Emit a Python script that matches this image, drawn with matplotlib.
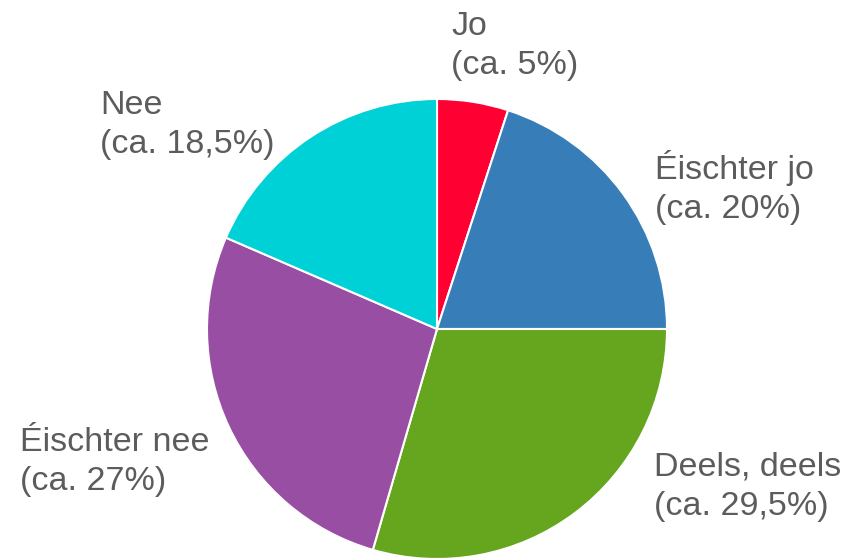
import matplotlib
matplotlib.use("Agg")
import matplotlib.pyplot as plt

# pie data (clockwise from top)
labels = ["Jo", "Éischter jo", "Deels, deels", "Éischter nee", "Nee"]
shares = [5, 20, 29.5, 27, 18.5]
share_text = ["ca. 5%", "ca. 20%", "ca. 29,5%", "ca. 27%", "ca. 18,5%"]
colors = ["#ff0033", "#377eb8", "#66a61e", "#984ea3", "#00d1d6"]

# label left edge and first-line baseline, figure pixels from top-left
label_pos = [(451, 35), (655, 179), (654, 476), (20, 451), (100, 114)]
line_gap = 39

W, H = 852, 559
fig = plt.figure(figsize=(W / 100, H / 100), dpi=100)

cx, cy, r = 437, 329, 230
ax = fig.add_axes([(cx - r) / W, (H - cy - r) / H, 2 * r / W, 2 * r / H])
ax.pie(shares, colors=colors, startangle=90, counterclock=False,
       wedgeprops=dict(edgecolor="white", linewidth=1.5), radius=1)
ax.set_xlim(-1, 1)
ax.set_ylim(-1, 1)
ax.set_aspect("equal")
ax.axis("off")

style = dict(ha="left", va="baseline", fontsize=24.5, color="#5c5c5c",
             family="Liberation Sans")
for i, (x, y) in enumerate(label_pos):
    fig.text(x / W, 1 - y / H, labels[i], **style)
    fig.text(x / W, 1 - (y + line_gap) / H, f"({share_text[i]})", **style)

fig.savefig("out.png", dpi=100)
